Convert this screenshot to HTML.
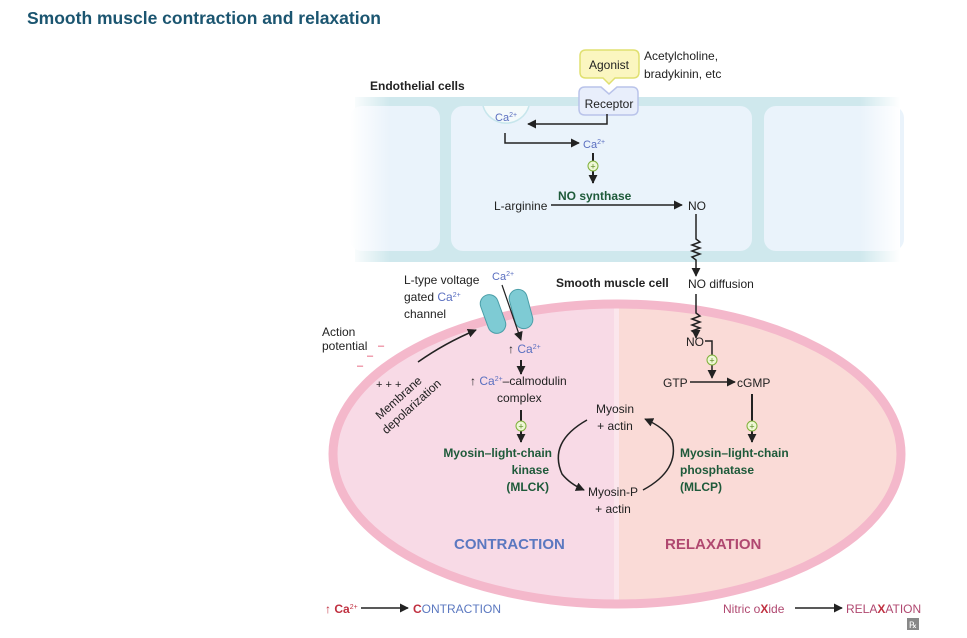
<!DOCTYPE html>
<html><head><meta charset="utf-8"><style>
body{margin:0;background:#fff;}
svg{display:block;font-family:"Liberation Sans",sans-serif;}
.t{font-size:12px;fill:#222;}
.b{font-weight:bold;}
.g{fill:#1e5a3a;font-weight:bold;font-size:12px;}
.ca{fill:#5a6fc0;}
</style></head><body>
<svg width="967" height="638" viewBox="0 0 967 638">
<defs>
<marker id="ar" viewBox="0 0 10 10" refX="9" refY="5" markerWidth="9" markerHeight="9" markerUnits="userSpaceOnUse" orient="auto"><path d="M0,0L10,5L0,10z" fill="#222"/></marker>
<linearGradient id="fadeL" x1="0" x2="1"><stop offset="0" stop-color="#fff" stop-opacity="1"/><stop offset="1" stop-color="#fff" stop-opacity="0"/></linearGradient>
<linearGradient id="fadeR" x1="0" x2="1"><stop offset="0" stop-color="#fff" stop-opacity="0"/><stop offset="1" stop-color="#fff" stop-opacity="1"/></linearGradient>
<clipPath id="ell"><ellipse cx="617" cy="454" rx="284" ry="150"/></clipPath>
</defs>
<text x="27" y="24" font-size="17.5" font-weight="bold" fill="#1b5570">Smooth muscle contraction and relaxation</text>

<g>
<rect x="355" y="97" width="545" height="165" fill="#cfe8ed"/>
<rect x="350" y="106" width="90" height="145" rx="12" fill="#eaf3fb"/>
<rect x="451" y="106" width="301" height="145" rx="12" fill="#eaf3fb"/>
<rect x="764" y="106" width="140" height="145" rx="12" fill="#eaf3fb"/>
<rect x="350" y="95" width="40" height="170" fill="url(#fadeL)"/>
<rect x="860" y="95" width="40" height="170" fill="url(#fadeR)"/>
</g>
<text x="370" y="90" class="t b">Endothelial cells</text>

<path d="M586,50 H633 Q639,50 639,56 V72 Q639,78 633,78 H615 L609,84 L603,78 H586 Q580,78 580,72 V56 Q580,50 586,50Z" fill="#fbf6c0" stroke="#e0e070" stroke-width="1.5"/>
<text x="609" y="69" text-anchor="middle" class="t">Agonist</text>
<path d="M585,87 H601 L609,94 L617,87 H632 Q638,87 638,93 V109 Q638,115 632,115 H585 Q579,115 579,109 V93 Q579,87 585,87Z" fill="#e8eefb" stroke="#b9c3ea" stroke-width="1.5"/>
<text x="609" y="108" text-anchor="middle" class="t">Receptor</text>
<text x="644" y="60" class="t">Acetylcholine,</text>
<text x="644" y="78" class="t">bradykinin, etc</text>

<path d="M483,106 a24,24 0 0 0 46,0" fill="#f4fafb" stroke="#c7e6ec" stroke-width="1.5"/>
<text x="495" y="121" font-size="11" class="ca">Ca<tspan font-size="7" dy="-4">2+</tspan></text>
<path d="M607,114 V124 H528" fill="none" stroke="#222" stroke-width="1.5" marker-end="url(#ar)"/>
<path d="M505,133 V143 H579" fill="none" stroke="#222" stroke-width="1.5" marker-end="url(#ar)"/>
<text x="583" y="148" font-size="11" class="ca">Ca<tspan font-size="7" dy="-4">2+</tspan></text>
<line x1="593" y1="153" x2="593" y2="183" stroke="#222" stroke-width="2" marker-end="url(#ar)"/>
<circle cx="593" cy="166" r="5" fill="#eef7d6" stroke="#7fb03a"/><text x="593" y="169.5" font-size="9" text-anchor="middle" fill="#5a8a20">+</text>
<text x="558" y="200" class="g">NO synthase</text>
<text x="494" y="210" class="t">L-arginine</text>
<line x1="551" y1="205" x2="682" y2="205" stroke="#222" stroke-width="1.5" marker-end="url(#ar)"/>
<text x="688" y="210" class="t">NO</text>
<path d="M696,214 V239 l4,3 l-8,3 l8,3 l-8,3 l8,3 l-8,3 l4,3 V276" fill="none" stroke="#222" stroke-width="1.5" marker-end="url(#ar)"/>
<text x="688" y="288" class="t">NO diffusion</text>
<text x="556" y="287" class="t b">Smooth muscle cell</text>

<g>
<g clip-path="url(#ell)"><rect x="320" y="290" width="297" height="330" fill="#f8dae6"/><rect x="617" y="290" width="300" height="330" fill="#fadbd7"/><rect x="614" y="290" width="5" height="330" fill="#fbe6ec"/></g>
<ellipse cx="617" cy="454" rx="284" ry="150" fill="none" stroke="#f4b8cb" stroke-width="9"/>
</g>

<path d="M696,294 V313 l4,3 l-8,3 l8,3 l-8,3 l8,3 l-8,3 l4,3 V338" fill="none" stroke="#222" stroke-width="1.5" marker-end="url(#ar)"/>
<text x="686" y="346" class="t">NO</text>
<path d="M705,341 H712 V378" fill="none" stroke="#222" stroke-width="1.5" marker-end="url(#ar)"/>
<circle cx="712" cy="360" r="5" fill="#eef7d6" stroke="#7fb03a"/><text x="712" y="363.5" font-size="9" text-anchor="middle" fill="#5a8a20">+</text>
<text x="663" y="387" class="t">GTP</text>
<line x1="690" y1="382" x2="735" y2="382" stroke="#222" stroke-width="1.5" marker-end="url(#ar)"/>
<text x="737" y="387" class="t">cGMP</text>
<line x1="752" y1="394" x2="752" y2="442" stroke="#222" stroke-width="2" marker-end="url(#ar)"/>
<circle cx="752" cy="426" r="5" fill="#eef7d6" stroke="#7fb03a"/><text x="752" y="429.5" font-size="9" text-anchor="middle" fill="#5a8a20">+</text>
<text x="680" y="457" class="g"><tspan x="680">Myosin–light-chain</tspan><tspan x="680" dy="17">phosphatase</tspan><tspan x="680" dy="17">(MLCP)</tspan></text>

<g>
<rect x="484" y="294" width="18" height="40" rx="9" fill="#7ecbd4" stroke="#4a9ea8" transform="rotate(-20 493 314)"/>
<rect x="512" y="289" width="18" height="40" rx="9" fill="#7ecbd4" stroke="#4a9ea8" transform="rotate(-15 521 309)"/>
</g>
<text x="492" y="280" font-size="11" class="ca">Ca<tspan font-size="7" dy="-4">2+</tspan></text>
<line x1="502" y1="285" x2="521" y2="340" stroke="#222" stroke-width="1.2" marker-end="url(#ar)"/>
<text x="404" y="284" class="t"><tspan x="404">L-type voltage</tspan><tspan x="404" dy="17">gated <tspan class="ca">Ca</tspan><tspan class="ca" font-size="7" dy="-4">2+</tspan></tspan><tspan x="404" dy="21">channel</tspan></text>
<text x="322" y="336" class="t"><tspan x="322">Action</tspan><tspan x="322" dy="14">potential</tspan></text>
<text x="378" y="349" fill="#e04060" font-size="11">–</text>
<text x="367" y="359" fill="#e04060" font-size="11">–</text>
<text x="357" y="369" fill="#e04060" font-size="11">–</text>
<text x="376" y="388" font-size="11" fill="#222">+ + +</text>
<path d="M418,362 Q445,343 476,330" fill="none" stroke="#222" stroke-width="1.5" marker-end="url(#ar)"/>
<text transform="translate(380,420) rotate(-42)" class="t"><tspan x="0">Membrane</tspan><tspan x="-5" dy="15">depolarization</tspan></text>

<text x="508" y="353" font-size="12" class="ca"><tspan fill="#222">↑</tspan> Ca<tspan font-size="7" dy="-4">2+</tspan></text>
<line x1="521" y1="360" x2="521" y2="374" stroke="#222" stroke-width="2" marker-end="url(#ar)"/>
<text x="470" y="385" class="t">↑ <tspan class="ca">Ca</tspan><tspan class="ca" font-size="7" dy="-4">2+</tspan><tspan dy="4">–calmodulin</tspan></text>
<text x="497" y="402" class="t">complex</text>
<line x1="521" y1="410" x2="521" y2="442" stroke="#222" stroke-width="2" marker-end="url(#ar)"/>
<circle cx="521" cy="426" r="5" fill="#eef7d6" stroke="#7fb03a"/><text x="521" y="429.5" font-size="9" text-anchor="middle" fill="#5a8a20">+</text>
<text x="552" y="457" class="g" text-anchor="end"><tspan x="552">Myosin–light-chain</tspan><tspan x="549" dy="17">kinase</tspan><tspan x="549" dy="17">(MLCK)</tspan></text>

<text x="615" y="413" class="t" text-anchor="middle"><tspan x="615">Myosin</tspan><tspan x="615" dy="17">+ actin</tspan></text>
<text x="613" y="496" class="t" text-anchor="middle"><tspan x="613">Myosin-P</tspan><tspan x="613" dy="17">+ actin</tspan></text>
<path d="M587,420 Q548,442 562,474 Q570,484 584,490" fill="none" stroke="#222" stroke-width="1.5" marker-end="url(#ar)"/>
<path d="M643,490 Q680,470 672,440 Q665,428 645,419" fill="none" stroke="#222" stroke-width="1.5" marker-end="url(#ar)"/>

<text x="454" y="549" font-size="15" font-weight="bold" fill="#5b78c0">CONTRACTION</text>
<text x="665" y="549" font-size="15" font-weight="bold" fill="#b04870">RELAXATION</text>

<g>
<text x="325" y="613" font-size="12" fill="#c03040">↑ <tspan font-weight="bold">Ca</tspan><tspan font-size="7" dy="-4">2+</tspan></text>
<line x1="361" y1="608" x2="408" y2="608" stroke="#222" stroke-width="1.5" marker-end="url(#ar)"/>
<text x="413" y="613" font-size="12" fill="#5b78c0"><tspan fill="#c03040" font-weight="bold">C</tspan>ONTRACTION</text>
</g>
<g>
<text x="723" y="613" font-size="12" fill="#b04870">Nitric o<tspan fill="#c03040" font-weight="bold">X</tspan>ide</text>
<line x1="795" y1="608" x2="842" y2="608" stroke="#222" stroke-width="1.5" marker-end="url(#ar)"/>
<text x="846" y="613" font-size="12" fill="#b04870">RELA<tspan fill="#c03040" font-weight="bold">X</tspan>ATION</text>
</g>
<rect x="907" y="618" width="12" height="12" fill="#888"/><text x="913" y="628" font-size="9" fill="#fff" text-anchor="middle">℞</text>
</svg>
</body></html>
